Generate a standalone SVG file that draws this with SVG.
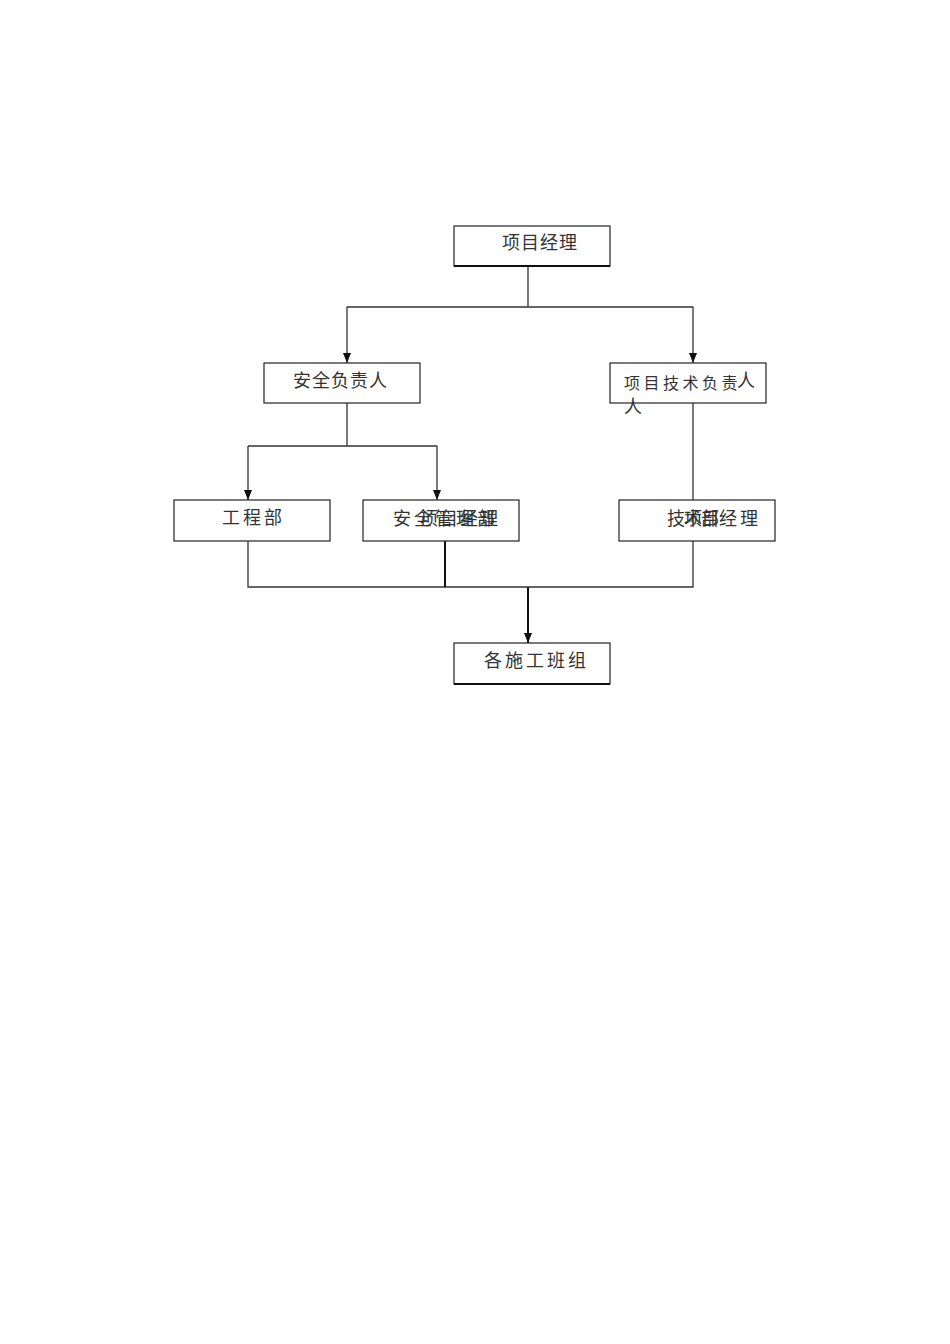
<svg xmlns="http://www.w3.org/2000/svg" width="950" height="1344" viewBox="0 0 950 1344">
<style>
.box{fill:#fff;stroke:#222;stroke-width:1.2}
.thick{stroke:#111;stroke-width:2.2}
.t{font-family:"Noto Sans CJK SC","Noto Sans CJK JP",sans-serif;font-size:18px;fill:#333}
.s{font-family:"Noto Sans CJK SC","Noto Sans CJK JP",sans-serif;font-size:16px;fill:#333}
.ln{stroke:#333;stroke-width:1.3;fill:none}
.lb{stroke:#111;stroke-width:2;fill:none}
</style>
<defs>
<marker id="ah" viewBox="0 0 10 8" refX="10" refY="4" markerWidth="10" markerHeight="8" markerUnits="userSpaceOnUse" orient="auto">
<path d="M0,0 L10,4 L0,8 Z" fill="#111"/>
</marker>
</defs>
<rect width="950" height="1344" fill="#fff"/>
<g id="connectors">
<path class="ln" d="M528,266 V307 M347,307 H693"/>
<path class="ln" d="M347,307 V363" marker-end="url(#ah)"/>
<path class="ln" d="M693,307 V363" marker-end="url(#ah)"/>
<path class="ln" d="M347,403 V446 M248,446 H437"/>
<path class="ln" d="M248,446 V500" marker-end="url(#ah)"/>
<path class="ln" d="M437,446 V500" marker-end="url(#ah)"/>
<path class="ln" d="M693,403 V500"/>
<path class="ln" d="M248,541 V587 H693 V541"/>
<path class="lb" d="M445,541 V587"/>
<path class="lb" d="M528,587 V643" marker-end="url(#ah)"/>
</g>
<g id="n1">
<rect class="box" x="454" y="226" width="156" height="40"/>
<line class="thick" x1="454" y1="266" x2="610" y2="266"/>
<text class="t" x="502" y="249" letter-spacing="1">项目经理</text>
</g>
<g id="n2">
<rect class="box" x="264" y="363" width="156" height="40"/>
<text class="t" x="293" y="387" letter-spacing="1">安全负责人</text>
</g>
<g id="n3">
<rect class="box" x="610" y="363" width="156" height="40"/>
<text class="s" x="624" y="389" letter-spacing="3.5">项目技术负责</text>
<text class="t" x="737" y="387">人</text>
<text class="t" x="624" y="413">人</text>
</g>
<g id="n4">
<rect class="box" x="174" y="500" width="156" height="41"/>
<text class="t" x="222" y="524" letter-spacing="3">工程部</text>
</g>
<g id="n5">
<rect class="box" x="363" y="500" width="156" height="41"/>
<text class="t" x="393" y="525" letter-spacing="3">安全管理部</text>
<text class="t" x="420" y="525" letter-spacing="2">项目经理</text>
</g>
<g id="n6">
<rect class="box" x="619" y="500" width="156" height="41"/>
<text class="t" x="667" y="525" letter-spacing="-1">技术部</text>
<text class="t" x="684" y="525" letter-spacing="-0.5">项目经 理</text>
</g>
<g id="n7">
<rect class="box" x="454" y="643" width="156" height="41"/>
<line class="thick" x1="454" y1="684" x2="610" y2="684"/>
<text class="t" x="484" y="667" letter-spacing="3">各施工班组</text>
</g>
</svg>
